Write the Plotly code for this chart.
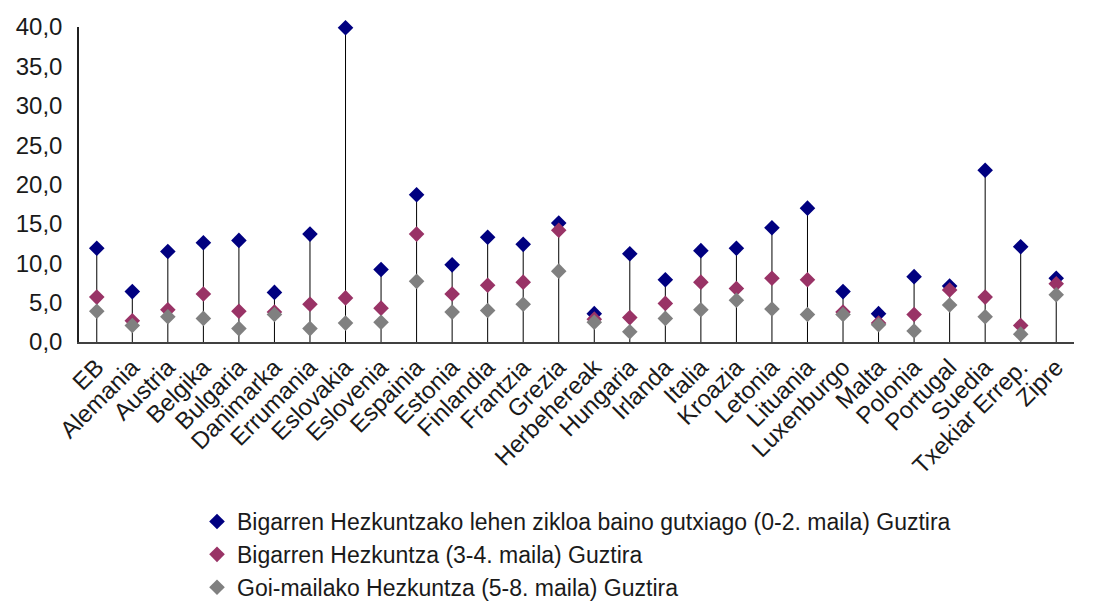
import plotly.graph_objects as go

countries = ["EB", "Alemania", "Austria", "Belgika", "Bulgaria", "Danimarka", "Errumania",
             "Eslovakia", "Eslovenia", "Espainia", "Estonia", "Finlandia", "Frantzia", "Grezia",
             "Herbehereak", "Hungaria", "Irlanda", "Italia", "Kroazia", "Letonia", "Lituania",
             "Luxenburgo", "Malta", "Polonia", "Portugal", "Suedia", "Txekiar Errep.", "Zipre"]

low_edu = [11.9, 6.4, 11.5, 12.6, 12.9, 6.3, 13.7, 39.9, 9.2, 18.7, 9.8, 13.3, 12.4, 15.1,
           3.6, 11.2, 7.9, 11.6, 11.9, 14.5, 17.0, 6.4, 3.6, 8.3, 7.1, 21.8, 12.1, 8.1]
mid_edu = [5.7, 2.7, 4.1, 6.1, 3.9, 3.8, 4.8, 5.6, 4.3, 13.7, 6.1, 7.2, 7.6, 14.2,
           2.9, 3.1, 4.9, 7.6, 6.8, 8.1, 7.9, 3.8, 2.4, 3.5, 6.6, 5.7, 2.1, 7.4]
high_edu = [3.9, 2.1, 3.2, 3.0, 1.7, 3.5, 1.7, 2.4, 2.5, 7.7, 3.8, 4.0, 4.8, 9.0,
            2.5, 1.3, 3.0, 4.1, 5.3, 4.2, 3.5, 3.5, 2.2, 1.4, 4.7, 3.2, 1.0, 6.0]

names = ["Bigarren Hezkuntzako lehen zikloa baino gutxiago (0-2. maila) Guztira",
         "Bigarren Hezkuntza (3-4. maila) Guztira",
         "Goi-mailako Hezkuntza (5-8. maila) Guztira"]
colors = ["#000080", "#993366", "#808080"]
y_ticks = [0, 5, 10, 15, 20, 25, 30, 35, 40]

font = "Liberation Sans, Arial, sans-serif"

fig = go.Figure()

# drop lines from 0 up to the highest marker of each country
sx, sy = [], []
for c, a, b, d in zip(countries, low_edu, mid_edu, high_edu):
    sx += [c, c, None]
    sy += [0, max(a, b, d), None]
fig.add_trace(go.Scatter(x=sx, y=sy, mode="lines", line=dict(color="#000000", width=1),
                         showlegend=False, hoverinfo="skip"))

for i, (vals, nm, col) in enumerate(zip([low_edu, mid_edu, high_edu], names, colors)):
    fig.add_trace(go.Scatter(x=countries, y=vals, mode="markers", name=nm,
                             marker=dict(symbol="diamond", size=12, color=col),
                             cliponaxis=False))

# page body adds 8px around the figure, margins account for it
fig.update_layout(width=1096, height=601,
                  margin=dict(l=71, r=30, t=19, b=267, autoexpand=False),
                  plot_bgcolor="white", paper_bgcolor="white",
                  separators=", ",
                  font=dict(family=font, size=21, color="#1a1a1a"),
                  legend=dict(x=0.1186, y=-0.5016, xanchor="left", yanchor="top",
                              traceorder="normal", font=dict(size=23), itemwidth=30))
fig.update_xaxes(type="category", range=[-0.5, len(countries) - 0.5], tickangle=-45,
                 showline=True, linecolor="#404040", linewidth=1.5, showgrid=False,
                 ticks="", tickfont=dict(size=24))
fig.update_yaxes(range=[0, 40], tickvals=y_ticks, tickformat=".1f", showline=True,
                 linecolor="#202020", linewidth=1.5, showgrid=False, zeroline=False,
                 ticks="", ticklabelstandoff=10, tickfont=dict(size=24))

fig.write_html("out.html")
